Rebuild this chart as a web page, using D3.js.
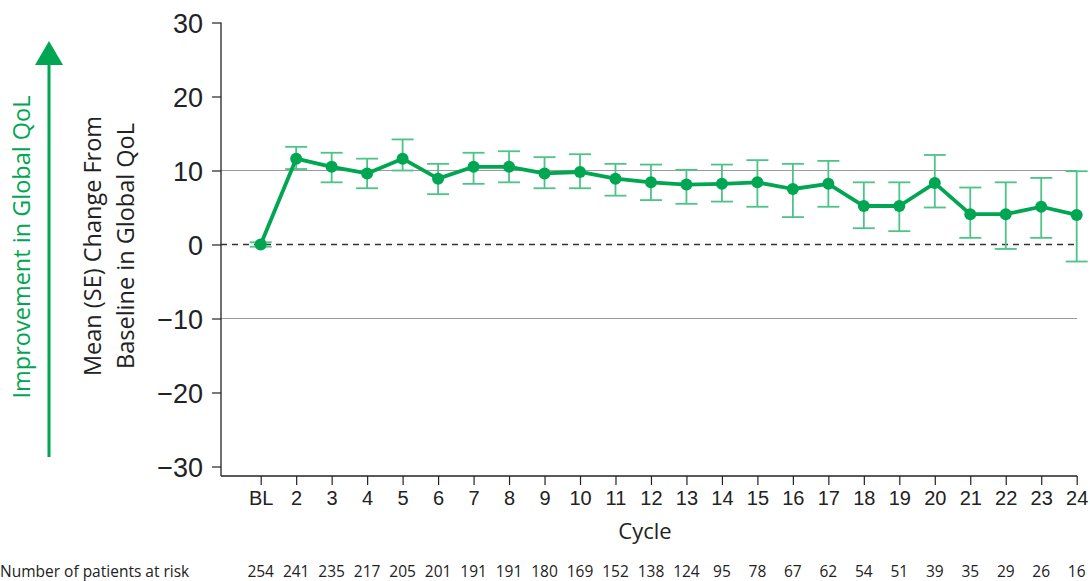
<!DOCTYPE html>
<html>
<head>
<meta charset="utf-8">
<script src="https://cdn.jsdelivr.net/npm/d3@7"></script>
<style>
  body { margin: 0; background: #fff; }
  svg { display: block; font-family: "Open Sans", sans-serif; }
</style>
</head>
<body>
<svg width="1090" height="581"></svg>
<script>
// cycles and values
var cycles  = ["BL","2","3","4","5","6","7","8","9","10","11","12","13","14","15","16","17","18","19","20","21","22","23","24"];
var means   = [0, 11.6, 10.5, 9.6, 11.6, 8.9, 10.5, 10.5, 9.6, 9.8, 8.9, 8.4, 8.1, 8.2, 8.4, 7.5, 8.2, 5.2, 5.2, 8.3, 4.1, 4.1, 5.1, 4.0];
var upper   = [0.3, 13.2, 12.4, 11.6, 14.2, 10.9, 12.4, 12.6, 11.8, 12.2, 10.9, 10.8, 10.1, 10.8, 11.4, 10.9, 11.3, 8.4, 8.4, 12.1, 7.7, 8.4, 9.0, 9.9];
var lower   = [-0.3, 10.2, 8.4, 7.6, 10.0, 6.8, 8.2, 8.4, 7.6, 7.6, 6.6, 6.0, 5.5, 5.8, 5.1, 3.7, 5.1, 2.2, 1.8, 5.0, 0.9, -0.6, 0.9, -2.3];
var atRisk  = [254, 241, 235, 217, 205, 201, 191, 191, 180, 169, 152, 138, 124, 95, 78, 67, 62, 54, 51, 39, 35, 29, 26, 16];
var yTicks  = [-30, -20, -10, 0, 10, 20, 30];

var green = "#00a651", barGreen = "#4cc387";

var svg = d3.select("svg");
var axisX = 221, axisBottom = 476, plotRight = 1077;

var x = d3.scalePoint().domain(cycles).range([260.7, 1076.7]);
var y = d3.scaleLinear().domain([-30, 30]).range([466.5, 22.5]);

// reference lines
svg.selectAll("line.grid").data([-10, 10]).enter().append("line")
    .attr("class", "grid")
    .attr("x1", axisX).attr("x2", plotRight)
    .attr("y1", function(d) { return y(d); }).attr("y2", function(d) { return y(d); })
    .attr("stroke", "#9a9a9a").attr("stroke-width", 1.2);

svg.append("line")
    .attr("x1", axisX).attr("x2", plotRight)
    .attr("y1", y(0)).attr("y2", y(0))
    .attr("stroke", "#333").attr("stroke-width", 1.3)
    .attr("stroke-dasharray", "6,5");

// y axis
var gy = svg.append("g")
    .attr("transform", "translate(" + axisX + ",0)")
    .call(d3.axisLeft(y).tickValues(yTicks).tickSize(9).tickPadding(9)
        .tickFormat(function(d) { return d < 0 ? "\u2212" + Math.abs(d) : d; }));
gy.select(".domain").remove();
gy.selectAll("line").attr("stroke", "#222").attr("stroke-width", 1.2);
gy.selectAll("text").attr("font-size", 27).attr("fill", "#222").attr("dy", "0.36em");
svg.append("line")
    .attr("x1", axisX).attr("x2", axisX)
    .attr("y1", y(30)).attr("y2", axisBottom)
    .attr("stroke", "#222").attr("stroke-width", 1.3);

// x axis
var gx = svg.append("g")
    .attr("transform", "translate(0," + axisBottom + ")")
    .call(d3.axisBottom(x).tickSize(9).tickPadding(6));
gx.select(".domain").remove();
gx.selectAll("line").attr("stroke", "#222").attr("stroke-width", 1.2);
gx.selectAll("text").attr("font-size", 20).attr("fill", "#222");
svg.append("line")
    .attr("x1", axisX).attr("x2", plotRight)
    .attr("y1", axisBottom).attr("y2", axisBottom)
    .attr("stroke", "#222").attr("stroke-width", 1.3);

svg.append("text")
    .attr("x", 645).attr("y", 539)
    .attr("text-anchor", "middle")
    .attr("font-size", 22).attr("fill", "#222")
    .text("Cycle");

// axis titles
var yl = svg.append("text")
    .attr("transform", "translate(101,246) rotate(-90)")
    .attr("text-anchor", "middle")
    .attr("font-size", 23.5).attr("fill", "#222");
yl.append("tspan").attr("x", 0).attr("y", 0).text("Mean (SE) Change From");
yl.append("tspan").attr("x", 0).attr("y", 33).text("Baseline in Global QoL");

svg.append("text")
    .attr("transform", "translate(30,247) rotate(-90)")
    .attr("text-anchor", "middle")
    .attr("font-size", 23.5).attr("fill", green)
    .text("Improvement in Global QoL");

// arrow
svg.append("line")
    .attr("x1", 49).attr("x2", 49).attr("y1", 457).attr("y2", 60)
    .attr("stroke", green).attr("stroke-width", 3);
svg.append("path")
    .attr("d", "M49,41 L63,65 L35,65 Z")
    .attr("fill", green);

// error bars
var eb = svg.append("g").attr("stroke", barGreen).attr("stroke-width", 1.8);
cycles.forEach(function(c, i) {
  var cx = x(c);
  eb.append("line").attr("x1", cx).attr("x2", cx).attr("y1", y(upper[i])).attr("y2", y(lower[i]));
  eb.append("line").attr("x1", cx - 11).attr("x2", cx + 11).attr("y1", y(upper[i])).attr("y2", y(upper[i]));
  eb.append("line").attr("x1", cx - 11).attr("x2", cx + 11).attr("y1", y(lower[i])).attr("y2", y(lower[i]));
});

// mean line + points
var line = d3.line()
    .x(function(d, i) { return x(cycles[i]); })
    .y(function(d) { return y(d); });

svg.append("path")
    .datum(means)
    .attr("fill", "none")
    .attr("stroke", green)
    .attr("stroke-width", 3.8)
    .attr("stroke-linejoin", "round")
    .attr("d", line);

svg.selectAll("circle.pt").data(means).enter().append("circle")
    .attr("class", "pt")
    .attr("cx", function(d, i) { return x(cycles[i]); })
    .attr("cy", function(d) { return y(d); })
    .attr("r", 6)
    .attr("fill", green);

// patients at risk
svg.append("text")
    .attr("x", 0).attr("y", 577)
    .attr("font-size", 15.5).attr("fill", "#222")
    .text("Number of patients at risk");

svg.selectAll("text.risk").data(atRisk).enter().append("text")
    .attr("class", "risk")
    .attr("x", function(d, i) { return x(cycles[i]); })
    .attr("y", 577)
    .attr("text-anchor", "middle")
    .attr("font-size", 15.5).attr("fill", "#222")
    .text(function(d) { return d; });
</script>
</body>
</html>
